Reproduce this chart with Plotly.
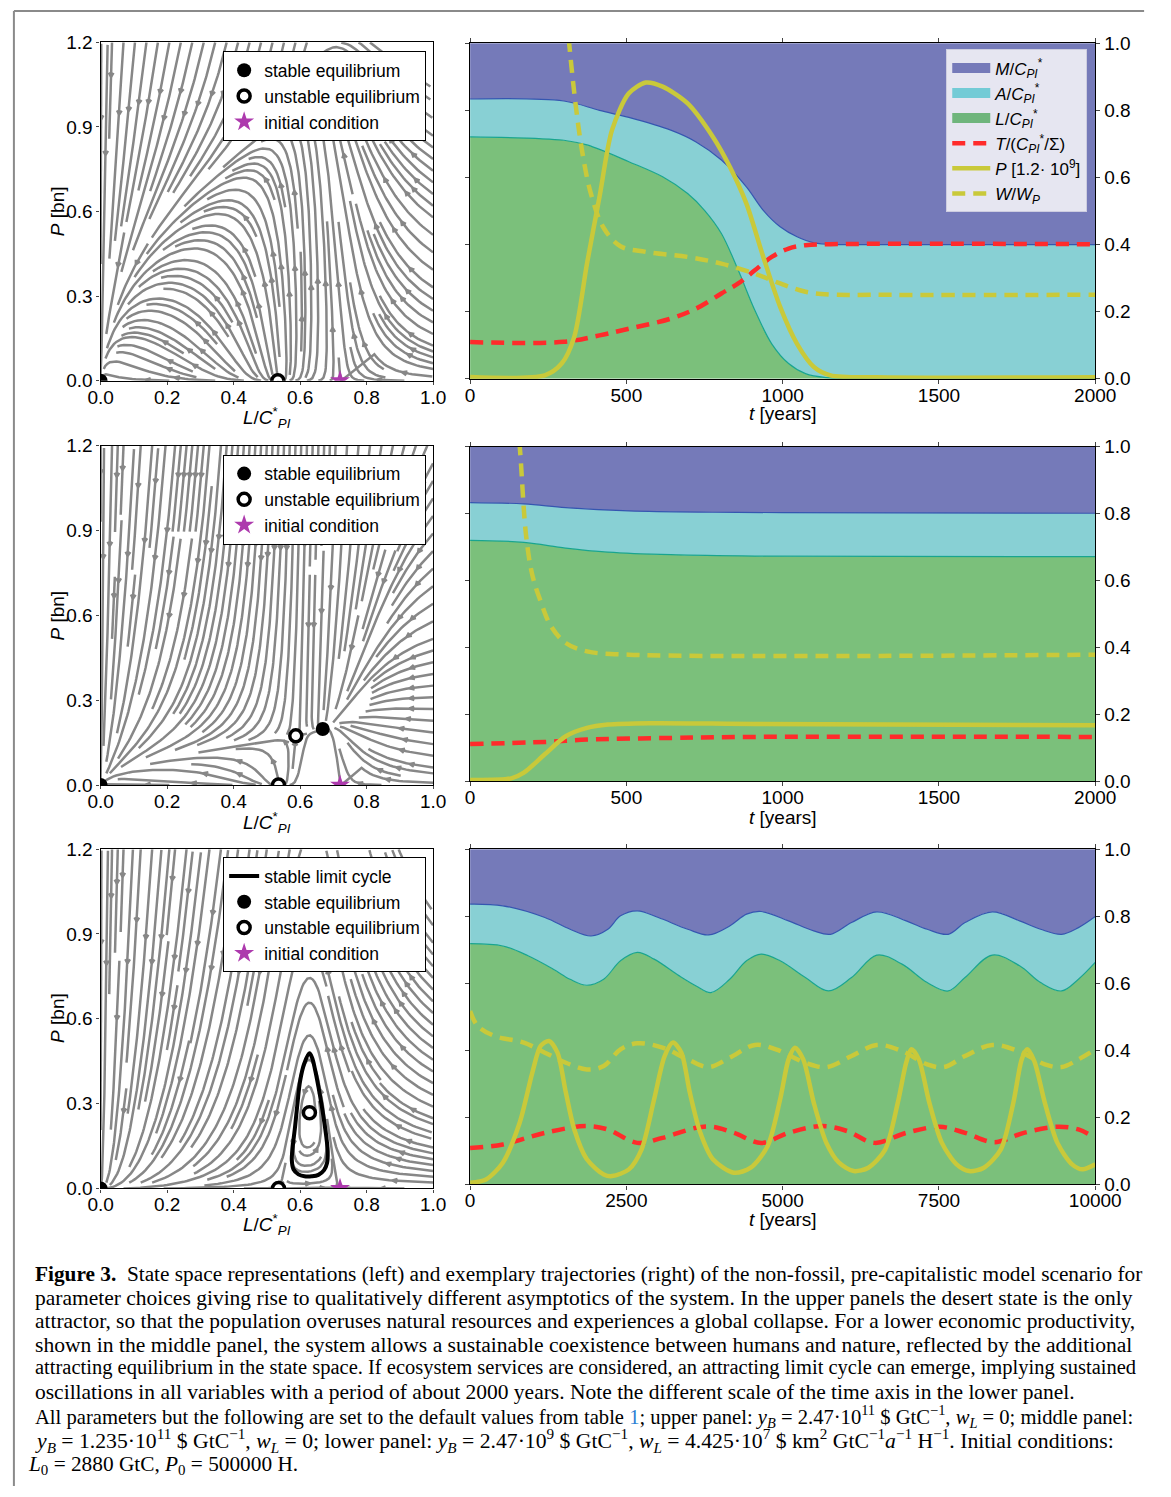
import numpy as np
import plotly.graph_objects as go
import plotly.figure_factory as ff

FIG_W, FIG_H = 1171, 1497
# the page is photographed slightly inset/scaled; place items so they land on the target pixels
SX, OX, SY, OY = 0.968, 12.3, 0.985, 10.7
def fx(x): return (x - OX) / SX
def fy(y): return (y - OY) / SY
def px(x): return fx(x) / FIG_W
def py(y): return 1 - fy(y) / FIG_H

# ---------------- data ----------------
# top right panel (t in years, values relative)
top_t_LA = [0, 300, 414, 508, 642, 723, 804, 884, 938, 992, 1046, 1100, 1180, 1300, 2000]
top_LA   = [0.834, 0.828, 0.800, 0.779, 0.741, 0.706, 0.652, 0.572, 0.502, 0.453, 0.423, 0.405, 0.400, 0.400, 0.400]
top_t_L  = [0, 300, 374, 508, 616, 696, 750, 804, 858, 911, 965, 1019, 1073, 1140, 1250, 2000]
top_L    = [0.721, 0.711, 0.697, 0.647, 0.602, 0.552, 0.502, 0.433, 0.323, 0.204, 0.104, 0.045, 0.015, 0.003, 0.0, 0.0]
top_t_T  = [0, 300, 414, 508, 642, 723, 804, 858, 911, 965, 1019, 1073, 1153, 2000]
top_T    = [0.109, 0.110, 0.129, 0.149, 0.179, 0.209, 0.254, 0.284, 0.323, 0.363, 0.388, 0.398, 0.401, 0.401]
top_t_P  = [0, 239, 293, 333, 374, 414, 454, 508, 562, 616, 696, 777, 831, 884, 938, 992, 1046, 1100, 1153, 1300, 2000]
top_P    = [0.005, 0.010, 0.045, 0.124, 0.343, 0.542, 0.741, 0.851, 0.883, 0.871, 0.821, 0.721, 0.632, 0.522, 0.363, 0.214, 0.104, 0.035, 0.010, 0.004, 0.004]
top_t_W  = [300, 317, 340, 360, 387, 427, 481, 562, 696, 804, 911, 992, 1073, 1153, 1300, 2000]
top_W    = [1.20, 1.00, 0.80, 0.67, 0.55, 0.45, 0.395, 0.378, 0.363, 0.343, 0.313, 0.284, 0.259, 0.251, 0.250, 0.250]

# middle right panel
mid_t_LA = [0, 172, 306, 508, 777, 1000, 2000]
mid_LA   = [0.833, 0.829, 0.818, 0.808, 0.804, 0.803, 0.801]
mid_t_L  = [0, 172, 306, 441, 642, 911, 2000]
mid_L    = [0.720, 0.714, 0.697, 0.685, 0.677, 0.673, 0.671]
mid_t_T  = [0, 239, 374, 642, 900, 2000]
mid_T    = [0.111, 0.117, 0.124, 0.129, 0.132, 0.132]
mid_t_P  = [0, 132, 172, 239, 306, 374, 441, 575, 911, 2000]
mid_P    = [0.003, 0.008, 0.025, 0.080, 0.134, 0.159, 0.169, 0.173, 0.171, 0.167]
mid_t_W  = [140, 159, 179, 199, 226, 259, 306, 374, 508, 2000]
mid_W    = [1.20, 1.00, 0.736, 0.617, 0.537, 0.463, 0.413, 0.388, 0.378, 0.378]

# bottom right panel
bot_t_LA = [0, 524, 1196, 1600, 1935, 2204, 2406, 2675, 3011, 3481, 3817, 4153, 4422, 4657, 5094, 5497, 5766,
            6102, 6505, 6976, 7312, 7648, 7917, 8353, 8790, 9126, 9462, 9731, 10000]
bot_LA   = [0.836, 0.831, 0.796, 0.761, 0.741, 0.761, 0.801, 0.816, 0.796, 0.761, 0.744, 0.771, 0.806, 0.814, 0.786,
            0.756, 0.746, 0.781, 0.813, 0.786, 0.761, 0.746, 0.781, 0.813, 0.786, 0.761, 0.746, 0.766, 0.799]
bot_t_L  = [0, 524, 927, 1331, 1600, 1868, 2137, 2406, 2675, 2944, 3347, 3616, 3851, 4153, 4422, 4657, 4960, 5363,
            5733, 6102, 6505, 6909, 7312, 7648, 7917, 8353, 8790, 9126, 9462, 9731, 10000]
bot_L    = [0.718, 0.711, 0.682, 0.642, 0.612, 0.594, 0.612, 0.667, 0.692, 0.672, 0.622, 0.592, 0.572, 0.612, 0.667,
            0.687, 0.667, 0.617, 0.577, 0.617, 0.684, 0.657, 0.602, 0.577, 0.617, 0.684, 0.652, 0.602, 0.577, 0.612, 0.662]
bot_t_T  = [0, 524, 1196, 1868, 2204, 2675, 3078, 3616, 3884, 4220, 4657, 5094, 5632, 6035, 6472, 6976, 7513, 7917,
            8387, 8857, 9395, 9731, 10000]
bot_T    = [0.109, 0.119, 0.154, 0.174, 0.164, 0.124, 0.139, 0.169, 0.172, 0.154, 0.124, 0.154, 0.174, 0.159, 0.124,
            0.154, 0.172, 0.154, 0.126, 0.154, 0.172, 0.164, 0.139]
bot_t_P  = [0, 255, 524, 793, 995, 1129, 1263, 1398, 1532, 1667, 1868, 2137, 2271, 2540, 2742, 2944, 3112, 3246,
            3380, 3515, 3683, 3884, 4220, 4489, 4758, 4960, 5094, 5195, 5329, 5497, 5699, 5901, 6136, 6371, 6640,
            6842, 6976, 7057, 7178, 7346, 7547, 7782, 7984, 8219, 8488, 8690, 8824, 8911, 9025, 9193, 9395, 9630,
            9798, 10000]
bot_P    = [0.005, 0.015, 0.065, 0.184, 0.333, 0.413, 0.428, 0.393, 0.274, 0.164, 0.075, 0.030, 0.025, 0.045, 0.104,
            0.254, 0.383, 0.423, 0.393, 0.274, 0.154, 0.075, 0.035, 0.050, 0.114, 0.254, 0.373, 0.408, 0.373, 0.244,
            0.124, 0.065, 0.040, 0.050, 0.104, 0.244, 0.363, 0.403, 0.373, 0.244, 0.124, 0.060, 0.040, 0.050, 0.104,
            0.244, 0.373, 0.403, 0.368, 0.244, 0.124, 0.060, 0.045, 0.060]
bot_t_W  = [0, 121, 390, 860, 1196, 1532, 1868, 2137, 2406, 2675, 3078, 3481, 3817, 4153, 4556, 4892, 5363, 5699,
            6102, 6505, 6909, 7312, 7581, 7917, 8353, 8790, 9193, 9462, 9731, 10000]
bot_W    = [0.517, 0.473, 0.443, 0.423, 0.393, 0.363, 0.343, 0.353, 0.403, 0.421, 0.408, 0.373, 0.350, 0.378, 0.416,
            0.403, 0.363, 0.350, 0.383, 0.416, 0.398, 0.358, 0.350, 0.383, 0.416, 0.396, 0.358, 0.350, 0.373, 0.403]

# state-space markers (L/C*, P in bn)
eq_stable   = {"top": ([0.0], [0.0]), "mid": ([0.0, 0.668], [0.0, 0.198]), "bot": ([0.0], [0.0])}
eq_unstable = {"top": ([0.533], [0.0]), "mid": ([0.535, 0.587], [0.0, 0.174]), "bot": ([0.535, 0.628], [0.0, 0.268])}
init_cond   = ([0.72], [0.0005])
cycle_L = [0.628, 0.612, 0.600, 0.592, 0.585, 0.578, 0.575, 0.580, 0.595, 0.613, 0.635, 0.655, 0.672, 0.681,
           0.683, 0.679, 0.672, 0.664, 0.655, 0.645, 0.636, 0.628]
cycle_P = [0.478, 0.440, 0.380, 0.300, 0.220, 0.150, 0.100, 0.068, 0.050, 0.043, 0.043, 0.048, 0.065, 0.090,
           0.130, 0.180, 0.240, 0.300, 0.360, 0.420, 0.462, 0.478]

# model parameters of the state-space vector field
R_L, L_THR, L_CAP = 0.05, 0.535, 0.72
BETA = 0.0068 * R_L / 0.295 ** 0.6
GAMMA = 0.05
W1 = {"top": 1.228, "mid": 0.614, "bot": 0.01228}
W2 = {"top": 0.0, "mid": 0.0, "bot": 1.573}

# ---------------- styles ----------------
C_M, C_A, C_L = "#757ab9", "#88d0d4", "#7bc07b"
C_MLINE, C_LLINE = "#3556b0", "#19a58f"
C_RED, C_YEL = "#ff2b2b", "#c9c93a"
C_GREY = "#878787"
FONT = "Liberation Sans"
SERIF = "Liberation Serif"

LEFT_X = (100, 433)
RIGHT_X = (470, 1096)
LEFT_Y = [(43, 381), (446, 785), (849, 1188)]
RIGHT_Y = [(44, 379), (447, 781), (849, 1184)]
ROWS = ["top", "mid", "bot"]

fig = go.Figure()


def streamlines(key):
    Lg = np.linspace(0.0, 1.0, 60)
    Pg = np.linspace(0.0, 1.2, 60)
    LL, PP = np.meshgrid(Lg, Pg)
    Ls = np.clip(LL, 1e-3, None)
    Ps = np.clip(PP, 1e-3, None)
    u = R_L * Ls * (Ls - L_THR) * (L_CAP - Ls) - BETA * Ls ** 0.4 * Ps ** 0.6
    Wn = W1[key] * (Ls / Ps) ** 0.4 + W2[key] * Ls
    v = GAMMA * Ps * (Wn - 1) / (Wn + 1)
    sl = ff.create_streamline(Lg, Pg, u, v, density=2.0, arrow_scale=0.016, angle=np.pi / 7)
    return list(sl.data[0].x), list(sl.data[0].y)


right_data = {
    "top": (top_t_LA, top_LA, top_t_L, top_L, top_t_T, top_T, top_t_P, top_P, top_t_W, top_W, 2000),
    "mid": (mid_t_LA, mid_LA, mid_t_L, mid_L, mid_t_T, mid_T, mid_t_P, mid_P, mid_t_W, mid_W, 2000),
    "bot": (bot_t_LA, bot_LA, bot_t_L, bot_L, bot_t_T, bot_T, bot_t_P, bot_P, bot_t_W, bot_W, 10000),
}

axfont = dict(family=FONT, size=19, color="black")

for r, key in enumerate(ROWS):
    li, ri = 2 * r + 1, 2 * r + 2
    xl, yl = ("x" if li == 1 else f"x{li}"), ("y" if li == 1 else f"y{li}")
    xr, yr = f"x{ri}", f"y{ri}"
    lg = f"legend{r + 2}"

    # ---- left: state space ----
    sx, sy = streamlines(key)
    fig.add_trace(go.Scatter(x=sx, y=sy, mode="lines", xaxis=xl, yaxis=yl,
                             line=dict(color=C_GREY, width=2.5), showlegend=False, hoverinfo="skip"))
    if key == "bot":
        fig.add_trace(go.Scatter(x=cycle_L, y=cycle_P, mode="lines", xaxis=xl, yaxis=yl, legend=lg,
                                 line=dict(color="black", width=4, shape="spline"),
                                 name="stable limit cycle"))
    fig.add_trace(go.Scatter(x=eq_stable[key][0], y=eq_stable[key][1], mode="markers", xaxis=xl, yaxis=yl,
                             legend=lg, name="stable equilibrium",
                             marker=dict(color="black", size=14, line=dict(width=0))))
    fig.add_trace(go.Scatter(x=eq_unstable[key][0], y=eq_unstable[key][1], mode="markers", xaxis=xl, yaxis=yl,
                             legend=lg, name="unstable equilibrium",
                             marker=dict(color="white", size=12, line=dict(color="black", width=3.5))))
    fig.add_trace(go.Scatter(x=init_cond[0], y=init_cond[1], mode="markers", xaxis=xl, yaxis=yl,
                             legend=lg, name="initial condition",
                             marker=dict(color="#ad3aad", size=15, symbol="star", line=dict(width=0))))

    # ---- right: trajectories ----
    tLA, vLA, tL, vL, tT, vT, tP, vP, tW, vW, tmax = right_data[key]
    show = key == "top"
    fig.add_trace(go.Scatter(x=tL, y=vL, mode="lines", xaxis=xr, yaxis=yr, fill="tozeroy",
                             fillcolor=C_L, line=dict(color=C_LLINE, width=1.2, shape="spline"),
                             showlegend=False, hoverinfo="skip"))
    fig.add_trace(go.Scatter(x=tLA, y=vLA, mode="lines", xaxis=xr, yaxis=yr, fill="tonexty",
                             fillcolor=C_A, line=dict(color=C_MLINE, width=1.2, shape="spline"),
                             showlegend=False, hoverinfo="skip"))
    fig.add_trace(go.Scatter(x=[0, tmax], y=[1, 1], mode="lines", xaxis=xr, yaxis=yr, fill="tonexty",
                             fillcolor=C_M, line=dict(color=C_M, width=0.5),
                             showlegend=False, hoverinfo="skip"))
    if show:
        for nm, col, rk in [("<i>M</i>/<i>C</i><sub><i>PI</i></sub><sup>*</sup>", C_M, 1),
                            ("<i>A</i>/<i>C</i><sub><i>PI</i></sub><sup>*</sup>", "#73cbd6", 2),
                            ("<i>L</i>/<i>C</i><sub><i>PI</i></sub><sup>*</sup>", "#6fb57c", 3)]:
            fig.add_trace(go.Scatter(x=[None], y=[None], mode="lines", xaxis=xr, yaxis=yr,
                                     line=dict(color=col, width=10), name=nm, legendrank=rk))
    fig.add_trace(go.Scatter(x=tT, y=vT, mode="lines", xaxis=xr, yaxis=yr,
                             line=dict(color=C_RED, width=4.5, dash="13px,8px", shape="spline"),
                             name="<i>T</i>/(<i>C</i><sub><i>PI</i></sub><sup>*</sup>/Σ)", legendrank=4,
                             showlegend=show))
    fig.add_trace(go.Scatter(x=tP, y=vP, mode="lines", xaxis=xr, yaxis=yr,
                             line=dict(color=C_YEL, width=4.5, shape="spline", smoothing=0.8),
                             name="<i>P</i> [1.2· 10<sup>9</sup>]", legendrank=5, showlegend=show))
    fig.add_trace(go.Scatter(x=tW, y=vW, mode="lines", xaxis=xr, yaxis=yr,
                             line=dict(color=C_YEL, width=4.5, dash="13px,8px", shape="spline"),
                             name="<i>W</i>/<i>W</i><sub><i>P</i></sub>", legendrank=6, showlegend=show))

    # ---- axes ----
    ldom_y = [py(LEFT_Y[r][1]), py(LEFT_Y[r][0])]
    rdom_y = [py(RIGHT_Y[r][1]), py(RIGHT_Y[r][0])]
    if tmax == 2000:
        xt_vals, xt_text = [0, 500, 1000, 1500, 2000], ["0", "500", "1000", "1500", "2000"]
    else:
        xt_vals, xt_text = [0, 2500, 5000, 7500, 10000], ["0", "2500", "5000", "7500", "10000"]
    fig.update_layout(**{
        ("xaxis" if li == 1 else f"xaxis{li}"): dict(
            domain=[px(LEFT_X[0]), px(LEFT_X[1])], range=[0, 1], anchor=yl,
            tickvals=[0, 0.2, 0.4, 0.6, 0.8, 1.0], tickformat=".1f", ticks="outside", ticklen=3,
            ticklabelstandoff=-4,
            showline=True, linecolor="black", linewidth=1.2, mirror=True, showgrid=False, zeroline=False,
            tickfont=axfont),
        ("yaxis" if li == 1 else f"yaxis{li}"): dict(
            domain=ldom_y, range=[0, 1.2], anchor=xl,
            tickvals=[0, 0.3, 0.6, 0.9, 1.2], tickformat=".1f", ticks="outside", ticklen=3,
            showline=True, linecolor="black", linewidth=1.2, mirror=True, showgrid=False, zeroline=False,
            tickfont=axfont),
        f"xaxis{ri}": dict(
            domain=[px(RIGHT_X[0]), px(RIGHT_X[1])], range=[0, tmax], anchor=yr,
            tickvals=xt_vals, ticktext=xt_text, ticklabelstandoff=-5,
            ticks="outside", ticklen=4, showline=True, linecolor="black", linewidth=1.2, mirror="ticks",
            showgrid=False, zeroline=False, tickfont=axfont),
        f"yaxis{ri}": dict(
            domain=rdom_y, range=[0, 1], anchor=xr, side="right",
            tickvals=[0, 0.2, 0.4, 0.6, 0.8, 1.0], tickformat=".1f", ticks="outside", ticklen=4,
            showline=True, linecolor="black", linewidth=1.2, mirror="ticks",
            showgrid=False, zeroline=False, tickfont=axfont),
    })

# ---------------- legends ----------------
left_leg = dict(bgcolor="white", bordercolor="black", borderwidth=1, xanchor="right", yanchor="top",
                font=dict(family=FONT, size=17.5, color="black"), itemwidth=30, tracegroupgap=0)
fig.update_layout(
    showlegend=True,
    legend=dict(x=px(1088), y=py(50), xanchor="right", yanchor="top", bgcolor="#e6e6f1",
                bordercolor="#cdcde0", borderwidth=1, font=dict(family=FONT, size=17, color="black"),
                itemwidth=38, traceorder="normal"),
    legend2=dict(x=px(426), y=py(52), **left_leg),
    legend3=dict(x=px(426), y=py(455), **left_leg),
    legend4=dict(x=px(426), y=py(857), **left_leg),
)

# ---------------- annotations ----------------
ann = []
tfont = dict(family=FONT, size=19, color="black")
for r in range(3):
    ann.append(dict(x=px(783), y=py([414, 817, 1219][r]), xref="paper", yref="paper", showarrow=False,
                    xanchor="center", yanchor="middle", text="<i>t</i> [years]", font=tfont))
    ann.append(dict(x=px(267), y=py([418, 822, 1224][r]), xref="paper", yref="paper", showarrow=False,
                    xanchor="center", yanchor="middle",
                    text="<i>L</i>/<i>C</i><sup>*</sup><sub><i>PI</i></sub>", font=tfont))
    ann.append(dict(x=px(57), y=py([212, 616, 1018][r]), xref="paper", yref="paper", showarrow=False,
                    xanchor="center", yanchor="middle",
                    text="<i>P</i> [bn]", textangle=-90, font=tfont))

caption = [
    "<b>Figure 3.</b>  State space representations (left) and exemplary trajectories (right) of the non-fossil, pre-capitalistic model scenario for",
    "parameter choices giving rise to qualitatively different asymptotics of the system. In the upper panels the desert state is the only",
    "attractor, so that the population overuses natural resources and experiences a global collapse. For a lower economic productivity,",
    "shown in the middle panel, the system allows a sustainable coexistence between humans and nature, reflected by the additional",
    "attracting equilibrium in the state space. If ecosystem services are considered, an attracting limit cycle can emerge, implying sustained",
    "oscillations in all variables with a period of about 2000 years. Note the different scale of the time axis in the lower panel.",
    "All parameters but the following are set to the default values from table <span style='color:#2a7fd4'>1</span>; upper panel: "
    "<i>y</i><sub><i>B</i></sub> = 2.47·10<sup>11</sup> $ GtC<sup>−1</sup>, <i>w</i><sub><i>L</i></sub> = 0; middle panel:",
    "<i>y</i><sub><i>B</i></sub> = 1.235·10<sup>11</sup> $ GtC<sup>−1</sup>, <i>w</i><sub><i>L</i></sub> = 0; lower panel: "
    "<i>y</i><sub><i>B</i></sub> = 2.47·10<sup>9</sup> $ GtC<sup>−1</sup>, <i>w</i><sub><i>L</i></sub> = 4.425·10<sup>7</sup> "
    "$ km<sup>2</sup> GtC<sup>−1</sup><i>a</i><sup>−1</sup> H<sup>−1</sup>. Initial conditions:",
    "<i>L</i><sub>0</sub> = 2880 GtC, <i>P</i><sub>0</sub> = 500000 H.",
]
cap_y = [1273, 1297, 1320, 1344, 1367, 1391, 1416, 1440, 1464]
cap_x = [32, 32, 32, 32, 32, 32, 32, 32, 25]
cap_size = [21.3, 21.5, 21.4, 21.6, 20.5, 21.5, 20.6, 21.7, 21.3]
for txt, yy, xx, fs in zip(caption, cap_y, cap_x, cap_size):
    ann.append(dict(x=px(xx), y=py(yy), xref="paper", yref="paper", showarrow=False, xanchor="left",
                    yanchor="middle", align="left", text=txt,
                    font=dict(family=SERIF, size=fs, color="black")))

frame = dict(color="#8a8a8a", width=2)
fig.update_layout(
    width=FIG_W, height=FIG_H, margin=dict(l=0, r=0, t=0, b=0),
    paper_bgcolor="white", plot_bgcolor="white",
    annotations=ann,
    shapes=[
        dict(type="line", xref="paper", yref="paper", x0=0.0008, x1=0.0008, y0=0, y1=0.9993, line=frame),
        dict(type="line", xref="paper", yref="paper", x0=0.0008, x1=0.9992, y0=0.9993, y1=0.9993, line=frame),
    ],
)

fig.write_html("out.html", config={"displayModeBar": False},
               post_script="document.body.style.margin='0px';")
